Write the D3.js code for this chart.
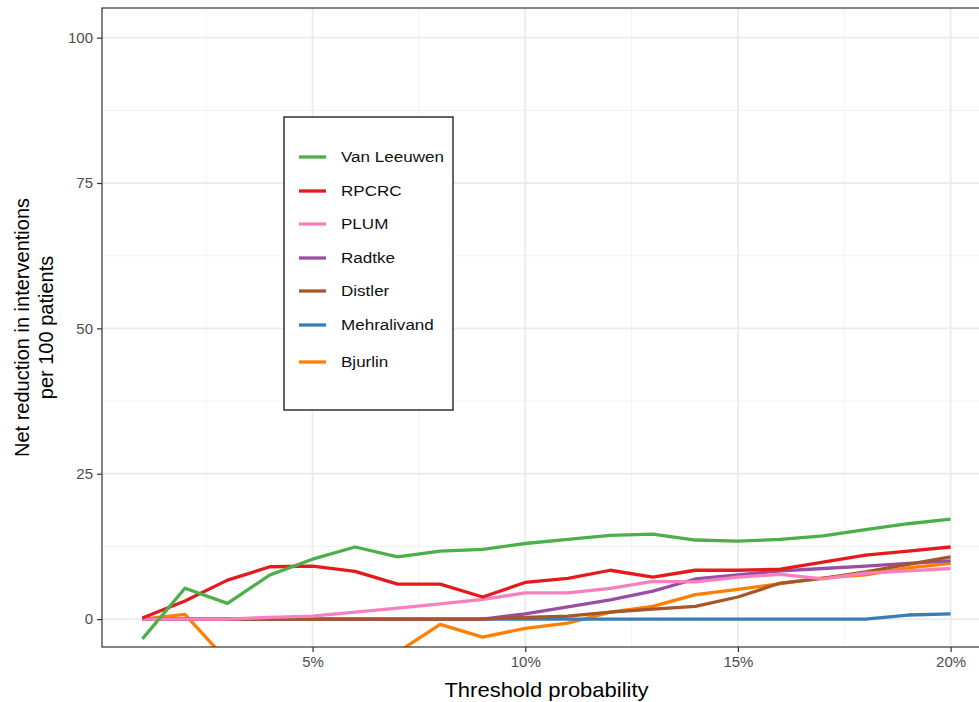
<!DOCTYPE html>
<html>
<head>
<meta charset="utf-8">
<script src="https://cdn.jsdelivr.net/npm/d3@7"></script>
<style>
  body { margin: 0; background: #fff; }
  svg { display: block; font-family: "Liberation Sans", Arial, sans-serif; }
</style>
</head>
<body>
<svg id="chart" width="979" height="702"></svg>
<script>
// threshold probability, in percent
var thresholds = d3.range(1, 21);

var modelNames = ["Van Leeuwen", "RPCRC", "PLUM", "Radtke", "Distler", "Mehralivand", "Bjurlin"];
var modelColors = ["#4daf4a", "#e41a1c", "#f781bf", "#984ea3", "#a65628", "#377eb8", "#ff7f00"];

// net reduction in interventions per 100 patients
var vanLeeuwen = [-3.4, 5.3, 2.7, 7.6, 10.3, 12.4, 10.7, 11.7, 12.0, 13.0, 13.7, 14.4, 14.6, 13.6, 13.4, 13.7, 14.3, 15.4, 16.4, 17.2];
var rpcrc = [0.2, 3.1, 6.7, 9.0, 9.1, 8.2, 6.0, 6.0, 3.8, 6.3, 7.0, 8.4, 7.2, 8.4, 8.4, 8.6, 9.8, 11.0, 11.7, 12.4];
var plum = [0, 0, 0, 0.3, 0.5, 1.2, 1.9, 2.6, 3.4, 4.5, 4.5, 5.3, 6.5, 6.4, 7.2, 7.7, 6.9, 7.9, 8.3, 8.7];
var radtke = [0, 0, 0, 0, 0, 0, 0, 0, 0, 0.9, 2.1, 3.3, 4.8, 6.9, 7.6, 8.3, 8.7, 9.1, 9.6, 10.0];
var distler = [0, 0, 0, 0, 0, 0, 0, 0, 0, 0.3, 0.5, 1.2, 1.7, 2.2, 3.8, 6.2, 7.0, 8.1, 9.4, 10.7];
var mehralivand = [0, 0, 0, 0, 0, 0, 0, 0, 0, 0, 0, 0, 0, 0, 0, 0, 0, 0, 0.7, 0.9];
var bjurlin = [0, 0.8, -7.2, -10, -11, -9, -5.7, -0.9, -3.1, -1.6, -0.7, 1.2, 2.2, 4.2, 5.1, 6.1, 7.1, 7.6, 8.8, 9.6];

var modelValues = [vanLeeuwen, rpcrc, plum, radtke, distler, mehralivand, bjurlin];

var yTicks = [0, 25, 50, 75, 100];
var yMinor = [12.5, 37.5, 62.5, 87.5];
var xTicks = [5, 10, 15, 20];
var xMinor = [2.5, 7.5, 12.5, 17.5];

var panel = { left: 102, top: 8, right: 991, bottom: 647 };
var stretch = 1.1; // the reference text is a little wider than plain Arial

var svg = d3.select("#chart");

var x = d3.scaleLinear().domain([0.05, 20.95]).range([panel.left, panel.right]);
var y = d3.scaleLinear().domain([-4.8, 105.1]).range([panel.bottom, panel.top]);

svg.append("defs").append("clipPath").attr("id", "panel-clip")
  .append("rect")
  .attr("x", panel.left).attr("y", panel.top)
  .attr("width", panel.right - panel.left)
  .attr("height", panel.bottom - panel.top);

//
// grid
//
var grid = svg.append("g");
grid.selectAll(".minor-y").data(yMinor).enter().append("line")
  .attr("x1", panel.left).attr("x2", panel.right)
  .attr("y1", function (d) { return y(d); }).attr("y2", function (d) { return y(d); })
  .style("stroke", "#f3f3f3").style("stroke-width", 1.1);
grid.selectAll(".minor-x").data(xMinor).enter().append("line")
  .attr("y1", panel.top).attr("y2", panel.bottom)
  .attr("x1", function (d) { return x(d); }).attr("x2", function (d) { return x(d); })
  .style("stroke", "#f3f3f3").style("stroke-width", 1.1);
grid.selectAll(".major-y").data(yTicks).enter().append("line")
  .attr("x1", panel.left).attr("x2", panel.right)
  .attr("y1", function (d) { return y(d); }).attr("y2", function (d) { return y(d); })
  .style("stroke", "#ebebeb").style("stroke-width", 1.8);
grid.selectAll(".major-x").data(xTicks).enter().append("line")
  .attr("y1", panel.top).attr("y2", panel.bottom)
  .attr("x1", function (d) { return x(d); }).attr("x2", function (d) { return x(d); })
  .style("stroke", "#ebebeb").style("stroke-width", 1.8);

//
// lines, drawn bottom-up so Van Leeuwen ends on top
//
var line = d3.line()
  .x(function (d) { return x(d.t); })
  .y(function (d) { return y(d.v); });

var series = modelNames.map(function (name, i) {
  return {
    name: name,
    color: modelColors[i],
    points: thresholds.map(function (t, j) { return { t: t, v: modelValues[i][j] }; })
  };
});

var drawOrder = ["Bjurlin", "Mehralivand", "Radtke", "Distler", "PLUM", "RPCRC", "Van Leeuwen"];
svg.append("g").attr("clip-path", "url(#panel-clip)")
  .selectAll("path")
  .data(drawOrder.map(function (n) { return series.find(function (s) { return s.name === n; }); }))
  .enter().append("path")
  .attr("d", function (d) { return line(d.points); })
  .style("fill", "none")
  .style("stroke", function (d) { return d.color; })
  .style("stroke-width", 3.3)
  .style("stroke-linejoin", "round");

//
// panel border and axes
//
svg.append("rect")
  .attr("x", panel.left).attr("y", panel.top)
  .attr("width", panel.right - panel.left)
  .attr("height", panel.bottom - panel.top)
  .style("fill", "none").style("stroke", "#333").style("stroke-width", 1.2);

var yAxis = svg.append("g")
  .attr("transform", "translate(" + panel.left + ",0)")
  .call(d3.axisLeft(y).tickValues(yTicks).tickSize(5).tickPadding(4));
var xAxis = svg.append("g")
  .attr("transform", "translate(0," + panel.bottom + ")")
  .call(d3.axisBottom(x).tickValues(xTicks).tickSize(5).tickPadding(4)
    .tickFormat(function (d) { return d + "%"; }));

[yAxis, xAxis].forEach(function (ax) {
  ax.select(".domain").remove();
  ax.selectAll(".tick line").style("stroke", "#333").style("stroke-width", 1.2);
  ax.selectAll(".tick text")
    .style("fill", "#4d4d4d")
    .style("font-size", "15px")
    .style("font-family", "'Liberation Sans', Arial, sans-serif");
});

svg.append("text")
  .attr("transform", "translate(" + ((panel.left + panel.right) / 2) + ",697) scale(" + stretch + ",1)")
  .attr("text-anchor", "middle")
  .style("font-size", "20px")
  .style("fill", "#000")
  .text("Threshold probability");

var yTitle = svg.append("text")
  .attr("transform", "translate(29," + ((panel.top + panel.bottom) / 2) + ") rotate(-90)")
  .attr("text-anchor", "middle")
  .style("font-size", "20px")
  .style("fill", "#000");
yTitle.append("tspan").attr("x", 0).attr("dy", 0).text("Net reduction in interventions");
yTitle.append("tspan").attr("x", 0).attr("dy", 24).text("per 100 patients");

//
// legend
//
var legend = svg.append("g");
legend.append("rect")
  .attr("x", 284).attr("y", 117).attr("width", 169).attr("height", 293)
  .style("fill", "#fff").style("stroke", "#111").style("stroke-width", 1.3);

var legendY = [157, 191, 224, 258, 291, 325, 362];
var item = legend.selectAll(".item").data(series).enter().append("g")
  .attr("transform", function (d, i) { return "translate(0," + legendY[i] + ")"; });
item.append("line")
  .attr("x1", 299).attr("x2", 326)
  .style("stroke", function (d) { return d.color; })
  .style("stroke-width", 3.3);
item.append("text")
  .attr("transform", "translate(341,0) scale(" + stretch + ",1)")
  .attr("dy", "0.35em")
  .style("font-size", "15.5px")
  .style("fill", "#111")
  .text(function (d) { return d.name; });
</script>
</body>
</html>
